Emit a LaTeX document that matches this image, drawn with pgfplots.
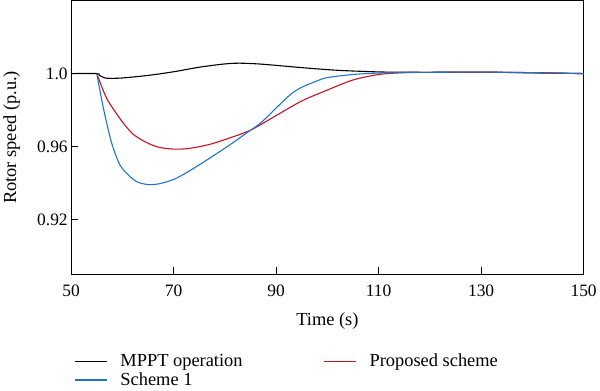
\documentclass[border=0pt]{standalone}
\usepackage{pgfplots}
\pgfplotsset{compat=1.18}
\usepackage{fontspec}
\setmainfont{Liberation Serif}
\definecolor{cblue}{RGB}{28,117,196}
\definecolor{cred}{RGB}{196,18,32}
\begin{document}
\begin{tikzpicture}
\begin{axis}[
  scale only axis, width=513bp, height=274bp,
  xmin=50, xmax=150, ymin=0.89, ymax=1.04,
  xtick={50,70,90,110,130,150},
  ytick={0.92,0.96,1.0}, yticklabels={0.92,0.96,1.0},
  /pgf/number format/assume math mode=true,
  xtick pos=left, ytick pos=left, tick align=inside,
  major tick length=7bp,
  axis line style={line width=1.2pt},
  tick style={line width=0.9pt, black},
  tick label style={font=\fontsize{17.5}{20}\selectfont},
  xticklabel style={yshift=-7bp},
  label style={font=\fontsize{18.5}{22}\selectfont},
  xlabel={Time (s)}, ylabel={Rotor speed (p.u.)},
  xlabel style={at={(axis description cs:0.5,-0.128)}, anchor=north},
  ylabel style={at={(axis description cs:-0.093,0.5)}, anchor=south},
  legend columns=2,
  legend style={draw=none, at={(0.0,-0.28)}, anchor=north west, font=\fontsize{18.5}{22}\selectfont, nodes={inner sep=1bp}, row sep=2.5bp, /tikz/every even column/.append style={column sep=80bp}},
  legend cell align=left,
  legend image code/.code={\draw[#1] (0bp,0bp) -- (32bp,0bp);},
  legend style={/tikz/every odd column/.append style={column sep=12bp}},
]
\addplot[black, line width=1.1pt, smooth] coordinates {
(50,1.0) (55,1.0) (55.5,0.9990) (56.5,0.9977) (57.5,0.9974) (60,0.9976) (65,0.9990) (70,1.0010) (75,1.0035) (80,1.0053) (83,1.0057) (87,1.0052) (92,1.0040) (97,1.0028) (102,1.0018) (107,1.0012) (112,1.0008) (120,1.0007) (130,1.0008) (140,1.0004) (150,1.0)
};
\addlegendentry{MPPT operation}
\addplot[cred, line width=1.1pt, smooth] coordinates {
(55,1.0) (56,0.9925) (57,0.9860) (58,0.9815) (60,0.9735) (62,0.9670) (64.5,0.9625) (67,0.9597) (70,0.9586) (73,0.9590) (77,0.9612) (81,0.9648) (85,0.9690) (90,0.9770) (95,0.9850) (100,0.9910) (105,0.9965) (110,0.9995) (115,1.0005) (120,1.0007) (130,1.0008) (140,1.0005) (150,1.0)
};
\addlegendentry{Proposed scheme}
\addplot[cblue, line width=1.1pt, smooth] coordinates {
(55,1.0) (56,0.9850) (57,0.9720) (58,0.9610) (59.5,0.9500) (61.3,0.9440) (63,0.9405) (65,0.9392) (67,0.9395) (70,0.9420) (73,0.9465) (77.5,0.9545) (81,0.9610) (84,0.9670) (87,0.9730) (90.5,0.9825) (93,0.9890) (95,0.9925) (98,0.9960) (100,0.9978) (105,0.9995) (110,1.0003) (115,1.0006) (120,1.0007) (130,1.0008) (140,1.0005) (150,1.0)
};
\addlegendentry{Scheme 1}
\end{axis}
\end{tikzpicture}
\end{document}
